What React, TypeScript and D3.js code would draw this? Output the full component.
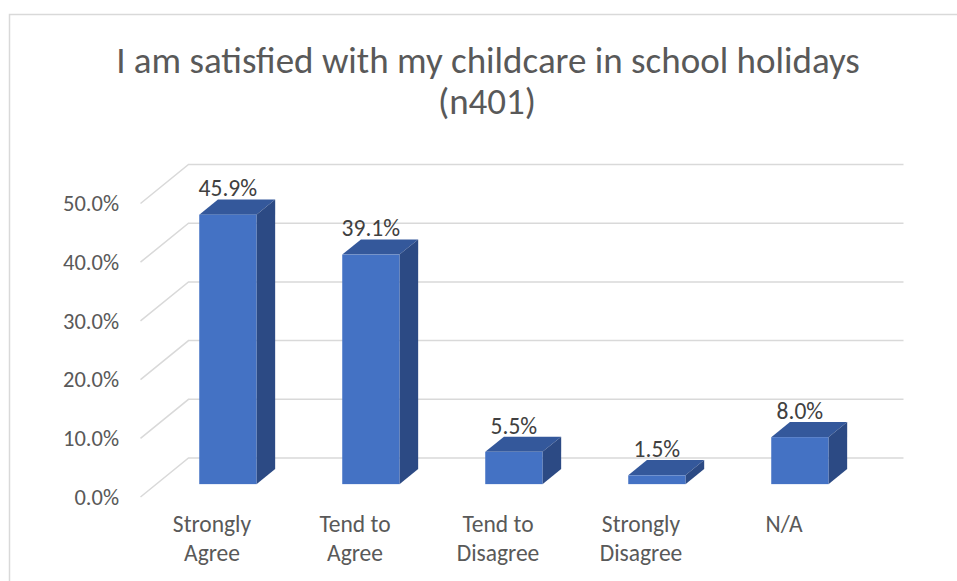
import React from "react";
import * as d3 from "d3";

const title = ["I am satisfied with my childcare in school holidays", "(n401)"];
const categories = ["Strongly Agree", "Tend to Agree", "Tend to Disagree", "Strongly Disagree", "N/A"];
const values = [45.9, 39.1, 5.5, 1.5, 8.0];
const ticks = [0, 10, 20, 30, 40, 50];

const W = 957;
const H = 581;
const FONT = "Carlito, Calibri, Lato, 'Open Sans', sans-serif";

// oblique 3D geometry
const X0 = 140.5;
const PLOT_W = 715;
const Y0 = 497;
const PLOT_H = 293.5;
const DX = 48;
const DY = 39;
const Z0 = 0.33;
const Z1 = 0.72;

function splitLabel(s: string): string[] {
  const i = s.lastIndexOf(" ");
  return i < 0 ? [s] : [s.slice(0, i), s.slice(i + 1)];
}

export default function App() {
  const x = d3
    .scaleBand<string>()
    .domain(categories)
    .range([X0, X0 + PLOT_W])
    .paddingInner(0.6)
    .paddingOuter(0.3);
  const xc = d3.scaleBand<string>().domain(categories).range([X0, X0 + PLOT_W]);
  const y = d3.scaleLinear().domain([0, 50]).range([Y0, Y0 - PLOT_H]);
  const fmt = (v: number) => v.toFixed(1) + "%";

  const front = "#4472C4";
  const top = "#34589B";
  const side = "#2C4A84";

  return (
    <svg
      width={W}
      height={H}
      style={{ position: "absolute", left: 0, top: 0, background: "#fff" }}
      fontFamily={FONT}
    >
      <rect x={0} y={0} width={W} height={H} fill="#fff" />
      <rect x={9.5} y={14.5} width={W + 20} height={H + 20} fill="none" stroke="#D9D9D9" strokeWidth={1.5} />

      <g fill="#595959" fontSize={37} textAnchor="middle">
        <text x={488} y={73}>{title[0]}</text>
        <text x={487} y={114}>{title[1]}</text>
      </g>

      {/* gridlines */}
      <g stroke="#D9D9D9" strokeWidth={1.5} fill="none">
        {ticks.map((t) => (
          <path
            key={t}
            d={`M${X0},${y(t)} L${X0 + DX},${y(t) - DY} L${X0 + DX + PLOT_W},${y(t) - DY}`}
          />
        ))}
      </g>

      {/* tick labels */}
      <g fill="#595959" fontSize={22.5} textAnchor="end">
        {ticks.map((t) => (
          <text key={t} x={119} y={y(t)} dy="0.35em">
            {fmt(t)}
          </text>
        ))}
      </g>

      {/* bars */}
      {categories.map((c, i) => {
        const v = values[i];
        const bw = x.bandwidth();
        const x0 = (x(c) as number) + Z0 * DX;
        const yb = y(0) - Z0 * DY;
        const yt = y(v) - Z0 * DY;
        const ddx = (Z1 - Z0) * DX;
        const ddy = (Z1 - Z0) * DY;
        return (
          <g key={c}>
            <path
              d={`M${x0},${yt} L${x0 + ddx},${yt - ddy} L${x0 + bw + ddx},${yt - ddy} L${x0 + bw},${yt} Z`}
              fill={top}
            />
            <path
              d={`M${x0 + bw},${yt} L${x0 + bw + ddx},${yt - ddy} L${x0 + bw + ddx},${yb - ddy} L${x0 + bw},${yb} Z`}
              fill={side}
            />
            <rect x={x0} y={yt} width={bw} height={yb - yt} fill={front} />
            <text
              x={x0 + bw / 2}
              y={yt - ddy - 3}
              textAnchor="middle"
              fontSize={23.5}
              fill="#404040"
            >
              {fmt(v)}
            </text>
          </g>
        );
      })}

      {/* category labels */}
      <g fill="#595959" fontSize={23.5} textAnchor="middle">
        {categories.map((c) => {
          const cx = (xc(c) as number) + xc.bandwidth() / 2;
          return splitLabel(c).map((line, j) => (
            <text key={c + j} x={cx} y={532 + j * 29}>
              {line}
            </text>
          ));
        })}
      </g>
    </svg>
  );
}
